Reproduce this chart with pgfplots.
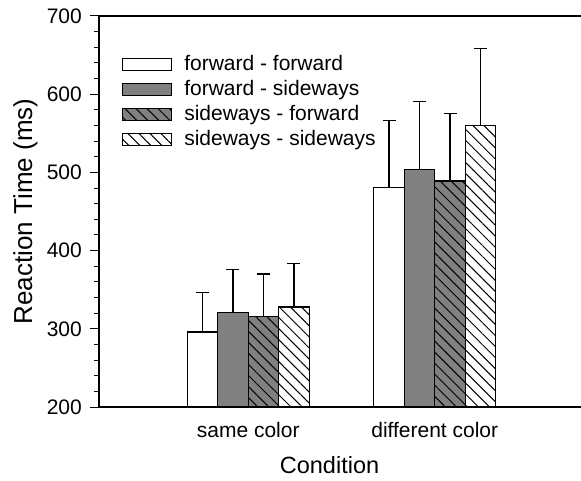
\documentclass[border=0pt]{standalone}
\usepackage{fontspec}
\setmainfont{Liberation Sans}
\usepackage{pgfplots}
\pgfplotsset{compat=1.18}
\usetikzlibrary{patterns.meta}
\definecolor{bargray}{RGB}{128,128,128}
\begin{document}
\begin{tikzpicture}
\useasboundingbox (-99pt,-73pt) rectangle (482pt,407pt);
\begin{axis}[
  scale only axis, width=485pt, height=391pt,
  xmin=0.2, xmax=2.8, ymin=200, ymax=700,
  ybar=0pt, bar width=30.5pt,
  axis line style={line width=1.2pt},
  tick align=outside, tick pos=left,
  ytick={200,300,...,700}, minor y tick num=4,
  major tick length=8.5pt, minor tick length=4.5pt,
  every tick/.style={line width=1pt, black},
  xtick={1,2}, xticklabels={same color, different color},
  major x tick style={draw=none},
  /pgf/number format/assume math mode=true,
  tick label style={font=\fontsize{21}{25}\selectfont},
  yticklabel style={anchor=east, inner sep=0pt, xshift=-8.5pt},
  xticklabel style={yshift=-3pt},
  xlabel={Condition}, ylabel={Reaction Time (ms)},
  xlabel style={font=\fontsize{23.5}{28}\selectfont, at={(axis description cs:0.4753,0)}, anchor=base, yshift=-66pt},
  ylabel style={font=\fontsize{26}{30}\selectfont, at={(axis description cs:-0.1381,0.5)}, anchor=base},
  legend style={at={(0.0412,0.905)}, anchor=north west, draw=none, fill=none,
    font=\fontsize{21}{25}\selectfont, legend cell align=left,
    nodes={inner sep=0pt, text height=15pt, text depth=4pt}, row sep=6pt,
    /tikz/every odd column/.append style={column sep=12pt}},
  legend image code/.code={\draw[#1, line width=1.1pt] (0pt,-6pt) rectangle (49pt,6pt);},
  error bars/y dir=plus, error bars/y explicit,
  error bars/error bar style={line width=1.2pt, black},
  error bars/error mark options={line width=1.2pt, mark size=6.5pt, black, rotate=90},
]
\addplot[draw=black, line width=1.2pt, fill=white]
  table[x=x, y=y, y error=e] {
x y e
1 296 50
2 481 85
};
\addlegendentry{forward - forward}
\addplot[draw=black, line width=1.2pt, fill=bargray]
  table[x=x, y=y, y error=e] {
x y e
1 321 55
2 504 87
};
\addlegendentry{forward - sideways}
\addplot[draw=black, line width=1.2pt, fill=bargray,
  postaction={pattern={Lines[angle=-45,distance=7.8pt,line width=1pt]}, pattern color=black}]
  table[x=x, y=y, y error=e] {
x y e
1 316 54
2 489 86
};
\addlegendentry{sideways - forward}
\addplot[draw=black, line width=1.2pt, fill=white,
  postaction={pattern={Lines[angle=-45,distance=7.8pt,line width=1pt]}, pattern color=black}]
  table[x=x, y=y, y error=e] {
x y e
1 328 56
2 560 98
};
\addlegendentry{sideways - sideways}
\end{axis}
\end{tikzpicture}
\end{document}
